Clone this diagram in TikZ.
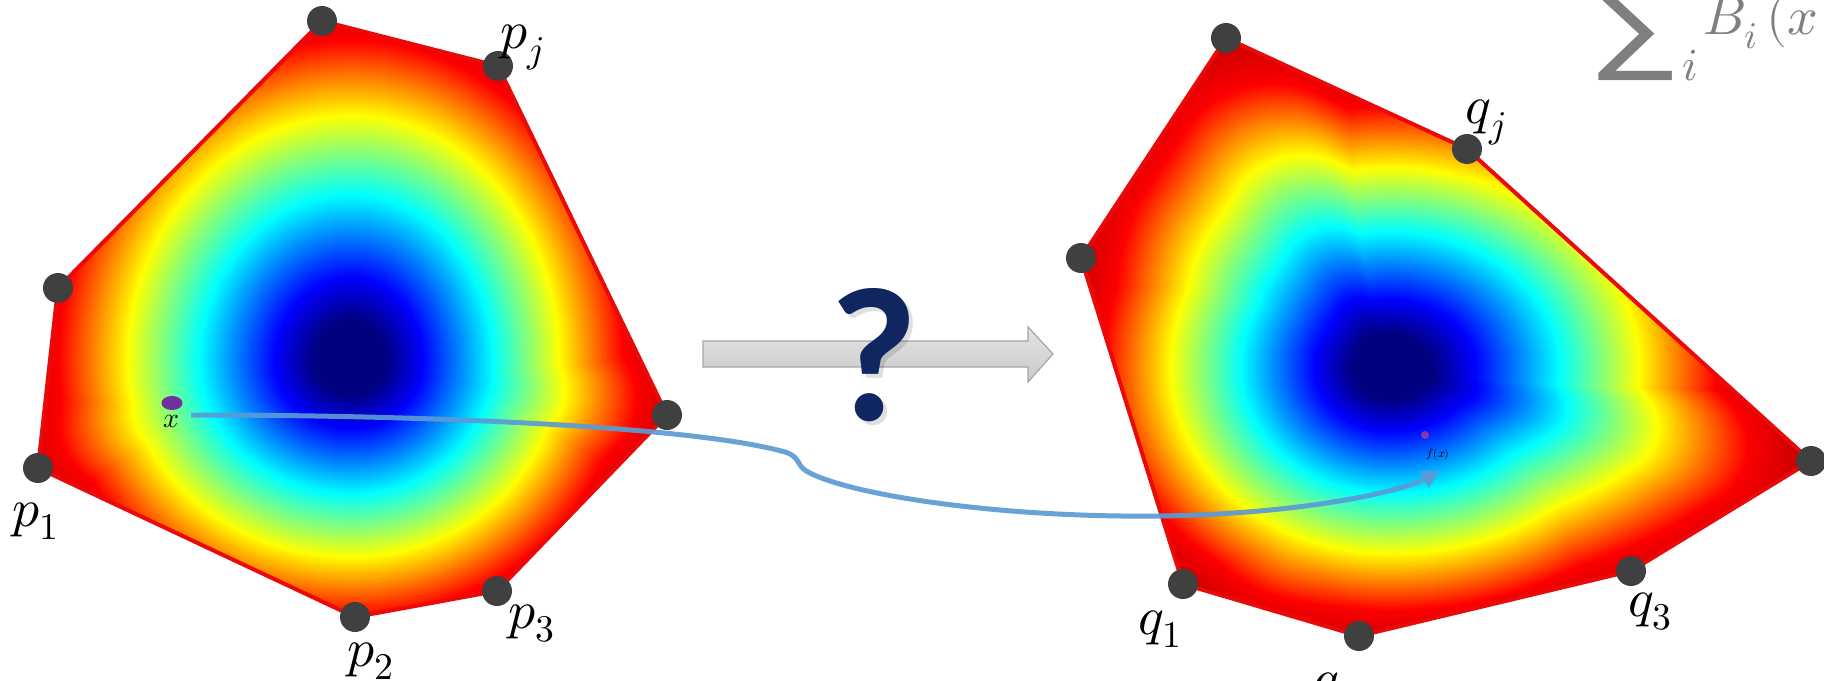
\documentclass[tikz,border=0pt]{standalone}
\usepackage{graphicx}
\usepackage{unicode-math}
\setmathfont{Latin Modern Math}
\newfontfamily\qfont{Carlito}
\newfontfamily\sigfont{DejaVu Sans}
\usetikzlibrary{arrows.meta,shapes.geometric}

\definecolor{dotgray}{RGB}{64,64,64}
\definecolor{edgered}{RGB}{235,10,10}
\definecolor{curveblue}{RGB}{91,155,213}
\definecolor{qnavy}{RGB}{16,38,96}
\definecolor{sumgray}{RGB}{127,127,127}
\definecolor{xpurple}{RGB}{112,48,160}
\definecolor{fxpurple}{RGB}{170,60,150}
\definecolor{deepred}{rgb}{0.66,0,0}

% jet-coloured level sets: union of a scaled rounded polygon and a scaled egg
% #1 centre, #2 polygon relative to centre, #3 aLeft #4 aRight #5 bTop #6 bBottom #7 rounding
\newcommand\jetcontours[7]{%
  \foreach \lv in {1.20,1.195,...,0.004} {%
    \pgfmathsetmacro\uu{min(0.97,max(0,min(1.05*\lv-0.12,0.8775+0.35*(\lv-0.95))))}%
    \pgfmathsetmacro\cR{min(1,max(0,1.5-abs(4*\uu-3)))}%
    \pgfmathsetmacro\cG{min(1,max(0,1.5-abs(4*\uu-2)))}%
    \pgfmathsetmacro\cB{min(1,max(0,1.5-abs(4*\uu-1)))}%
    \pgfmathsetmacro\rc{#7*\lv}%
    \pgfmathsetmacro\es{\lv*(1.1-0.1*min(1,\lv))}%
    \definecolor{lev}{rgb}{\cR,\cG,\cB}%
    \begin{scope}[shift={#1}, scale=\lv]
      \fill[lev, rounded corners=\rc bp] #2 -- cycle;
    \end{scope}
    \begin{scope}[shift={#1}, scale=\es]
      \fill[lev] (#4,0) arc[start angle=0, end angle=-90, x radius=#4, y radius=#5]
        arc[start angle=-90, end angle=-180, x radius=#3, y radius=#5]
        arc[start angle=180, end angle=90, x radius=#3, y radius=#6]
        arc[start angle=90, end angle=0, x radius=#4, y radius=#6] -- cycle;
    \end{scope}
  }}

\begin{document}
\begin{tikzpicture}[x=1bp,y=-1bp,
  vdot/.style={circle, fill=dotgray, minimum size=30bp, inner sep=0pt},
  polyedge/.style={draw=edgered, line width=4bp, line join=round},
  lbl/.style={anchor=base west, inner sep=0pt, font=\fontsize{54}{60}\selectfont},
  mapcurve/.style={draw=curveblue, line width=5bp, opacity=0.92,
    -{Triangle[length=18bp,width=18bp]}},
  grayarrow/.style={draw=gray!70, line width=1.2bp, top color=gray!22, bottom color=gray!42},
  sumtxt/.style={inner sep=0pt, text=sumgray}]
\useasboundingbox (0,0) rectangle (1824,681);

% ---------- left polygon ----------
\coordinate (lA) at (322,21);
\coordinate (lJ) at (498,66);
\coordinate (lR) at (667,415);
\coordinate (l3) at (497,591);
\coordinate (l2) at (355,617);
\coordinate (l1) at (38,468);
\coordinate (lL) at (58,288);
\begin{scope}
  \clip (lA) -- (lJ) -- (lR) -- (l3) -- (l2) -- (l1) -- (lL) -- cycle;
  \fill[deepred] (lA) -- (lJ) -- (lR) -- (l3) -- (l2) -- (l1) -- (lL) -- cycle;
  \jetcontours{(352,362)}{(-30,-341) -- (146,-296) -- (315,53) -- (145,229) -- (3,255) -- (-314,106) -- (-294,-74)}{308}{285}{338}{268}{45}
\end{scope}
\draw[polyedge] (lA) -- (lJ) -- (lR) -- (l3) -- (l2) -- (l1) -- (lL) -- cycle;
\foreach \v in {lA,lJ,lR,l3,l2,l1,lL} \node[vdot] (d\v) at (\v) {};

% ---------- right polygon ----------
\coordinate (rA) at (1226,38);
\coordinate (rJ) at (1467,149);
\coordinate (rR) at (1811,461);
\coordinate (r3) at (1631,571);
\coordinate (r2) at (1359,636);
\coordinate (r1) at (1183,584);
\coordinate (rL) at (1081,258);
\begin{scope}
  \clip (rA) -- (rJ) -- (rR) -- (r3) -- (r2) -- (r1) -- (rL) -- cycle;
  \fill[deepred] (rA) -- (rJ) -- (rR) -- (r3) -- (r2) -- (r1) -- (rL) -- cycle;
  \jetcontours{(1390,368)}{(-164,-330) -- (77,-219) -- (421,93) -- (241,203) -- (-31,268) -- (-207,216) -- (-309,-110)}{301}{343}{275}{255}{92}
\end{scope}
\draw[polyedge] (rA) -- (rJ) -- (rR) -- (r3) -- (r2) -- (r1) -- (rL) -- cycle;
\foreach \v in {rA,rJ,rR,r3,r2,r1,rL} \node[vdot] (d\v) at (\v) {};

% ---------- vertex labels ----------
\node[lbl] (tpj) at (500,49) {$p_j$};
\node[lbl] (tp1) at (12,526) {$p_1$};
\node[lbl] (tp2) at (347,666) {$p_2$};
\node[lbl] (tp3) at (508,628) {$p_3$};
\node[lbl] (tqj) at (1465,124) {$q_j$};
\node[lbl] (tq1) at (1138,634) {$q_1$};
\node[lbl] (tq2) at (1313,696) {$q_2$};
\node[lbl] (tq3) at (1628,616) {$q_3$};

% ---------- points x and f(x) ----------
\node[ellipse, fill=xpurple, minimum width=21bp, minimum height=14bp, inner sep=0pt] (xdot) at (172,403) {};
\node[inner sep=0pt, font=\fontsize{28}{30}\selectfont] (xlbl) at (171,421) {$x$};
\node[circle, fill=fxpurple, opacity=0.8, minimum size=8bp, inner sep=0pt] (fdot) at (1425,435) {};
\node[inner sep=0pt, font=\fontsize{12}{14}\selectfont] (flbl) at (1438,455) {$f(x)$};

% ---------- mapping curve ----------
\coordinate (cs) at (191,415);
\coordinate (ce) at (1440,471);
\draw[mapcurve] (cs) .. controls (450,415) and (700,428) .. (785,452)
  .. controls (801,457) and (796,466) .. (808,472)
  .. controls (850,495) and (1000,518) .. (1160,516)
  .. controls (1300,514) and (1400,492) .. (ce);

% ---------- gray arrow and question mark ----------
\draw[grayarrow] (703,341) -- (1028,341) -- (1028,327) -- (1053,354)
  -- (1028,382) -- (1028,367) -- (703,367) -- cycle;
\node[inner sep=0pt, text=black, opacity=0.12, font=\qfont\bfseries\fontsize{192}{192}\selectfont] (qshadow) at (878,359) {?};
\node[inner sep=0pt, text=qnavy, font=\qfont\bfseries\fontsize{192}{192}\selectfont] (qmark) at (874,355) {?};

% ---------- formula (cut at the edge) ----------
\node[sumtxt, anchor=south west, font=\sigfont\fontsize{100}{100}\selectfont] (sig) at (1597,81) {\scalebox{1.15}[1]{∑}};
\node[sumtxt, font=\fontsize{46}{50}\selectfont] (sigi) at (1690,66) {$i$};
\node[sumtxt, anchor=base west, font=\fontsize{54}{58}\selectfont] (bix) at (1703,35) {$B_i\,(x$};
\end{tikzpicture}
\end{document}
